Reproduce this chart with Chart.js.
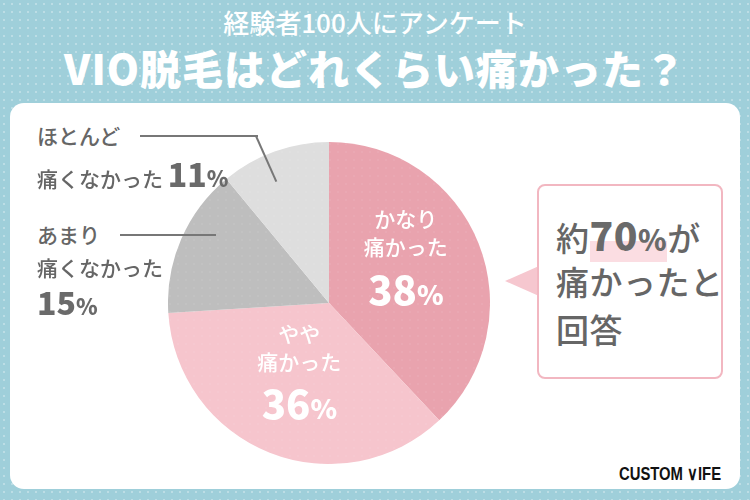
<!DOCTYPE html>
<html>
<head>
<meta charset="utf-8">
<script src="https://cdn.jsdelivr.net/npm/chart.js@4"></script>
<style>
  body { margin: 0; }
  #wrap {
    position: relative; width: 750px; height: 500px; overflow: hidden;
    background-color: #9fcfda;
    background-image: radial-gradient(rgba(255,255,255,0.3) 1px, transparent 1.2px);
    background-size: 8px 8px;
    font-family: "Noto Sans CJK JP", "Noto Sans", sans-serif;
  }
  .abs { position: absolute; white-space: nowrap; }
  #sub { left: 0; width: 750px; top: 3px; text-align: center; color: #fff; font-size: 26px; font-weight: 500; }
  #title { left: 0; width: 750px; top: 37px; text-align: center; color: #fff; font-size: 41px; font-weight: 900; letter-spacing: 1px; }
  #panel { left: 10px; top: 103px; width: 730px; height: 386px; background: #fff; border-radius: 14px; }
  #pie { left: 168px; top: 142px; width: 322px; height: 322px; }
  .lbl { color: #666; font-size: 21px; font-weight: 500; line-height: 1; }
  .num { color: #6a6a6a; font-size: 32px; font-weight: 900; line-height: 1; }
  .num small { font-size: 22px; }
  .line { background: #777; height: 2px; }
  #box { left: 537px; top: 184px; width: 182px; height: 191px; border: 2.5px solid #f2b7c1; border-radius: 8px; background: #fff; }
  #tri { left: 505px; top: 266px; width: 0; height: 0; border-top: 15px solid transparent; border-bottom: 15px solid transparent; border-right: 34px solid #f6c7cf; }
  .bt { color: #666; font-size: 33px; font-weight: 500; line-height: 1; letter-spacing: 0.5px; }
  .hl { background: linear-gradient(transparent 62%, #fbdde2 62%); font-weight: 900; font-size: 39px; color: #6a6a6a; }
  .hl small { font-size: 29px; }
  #logo { left: 619px; top: 462px; font-family: "Liberation Sans", sans-serif; font-weight: bold; font-size: 19px; color: #111; transform: scaleX(0.78); transform-origin: 0 0; }
</style>
</head>
<body>
<div id="wrap">
  <div id="sub" class="abs">経験者100人にアンケート</div>
  <div id="title" class="abs">VIO脱毛はどれくらい痛かった？</div>
  <div id="panel" class="abs"></div>

  <div id="pie" class="abs"><canvas id="chart" width="322" height="322"></canvas></div>

  <div class="abs lbl" style="left:37px;top:125px;">ほとんど</div>
  <div class="abs lbl" style="left:37px;top:157px;">痛くなかった <span class="num">11<small>%</small></span></div>
  <div class="abs line" style="left:140px;top:135px;width:118px;"></div>
  <div class="abs line" style="left:256px;top:135px;width:50px;transform-origin:0 50%;transform:rotate(66deg);"></div>

  <div class="abs lbl" style="left:37px;top:224px;">あまり</div>
  <div class="abs line" style="left:120px;top:234px;width:96px;"></div>
  <div class="abs lbl" style="left:37px;top:257px;">痛くなかった</div>
  <div class="abs num" style="left:37px;top:285px;">15<small>%</small></div>

  <div id="tri" class="abs"></div>
  <div id="box" class="abs"></div>
  <div class="abs bt" style="left:556px;top:215px;">約<span class="hl">70<small>%</small></span>が</div>
  <div class="abs bt" style="left:556px;top:265px;">痛かったと</div>
  <div class="abs bt" style="left:556px;top:313px;">回答</div>

  <div id="logo" class="abs">CUSTOM ∨IFE</div>
</div>

<script>
// answers, clockwise from 12 o'clock
var categories = ['かなり痛かった', 'やや痛かった', 'あまり痛くなかった', 'ほとんど痛くなかった']
var percents = [38, 36, 15, 11]
var sliceColors = ['#e9a3ae', '#f6c5cd', '#bebebe', '#dedede']
// which slices get their label drawn inside the pie
var insideLines = [['かなり', '痛かった'], ['やや', '痛かった'], null, null]

function dotted(color) {
    var c = document.createElement('canvas')
    c.width = 8; c.height = 8
    var g = c.getContext('2d')
    g.fillStyle = color
    g.fillRect(0, 0, 8, 8)
    g.fillStyle = 'rgba(255,255,255,0.15)'
    g.beginPath(); g.arc(2, 2, 0.8, 0, Math.PI * 2); g.fill()
    return g.createPattern(c, 'repeat')
}

var sliceText = {
    id: 'sliceText',
    afterDatasetsDraw: function(chart) {
        var ctx = chart.ctx
        var arcs = chart.getDatasetMeta(0).data
        ctx.save()
        ctx.fillStyle = '#fff'
        ctx.textBaseline = 'middle'
        arcs.forEach(function(arc, i) {
            if (!insideLines[i]) return
            var p = arc.tooltipPosition()
            var x = p.x + (i == 0 ? 2 : 0)
            var y = p.y + (i == 0 ? -20 : -10)
            ctx.textAlign = 'center'
            ctx.font = '500 21px "Noto Sans CJK JP"'
            ctx.fillText(insideLines[i][0], x, y - 34)
            ctx.fillText(insideLines[i][1], x, y - 6)
            ctx.font = '900 40px "Noto Sans CJK JP"'
            var n = String(percents[i])
            var w1 = ctx.measureText(n).width
            ctx.font = '900 27px "Noto Sans CJK JP"'
            var w2 = ctx.measureText('%').width
            ctx.textAlign = 'left'
            ctx.font = '900 40px "Noto Sans CJK JP"'
            ctx.fillText(n, x - (w1 + w2) / 2, y + 36)
            ctx.font = '900 27px "Noto Sans CJK JP"'
            ctx.fillText('%', x - (w1 + w2) / 2 + w1, y + 41)
        })
        ctx.restore()
    }
}

new Chart(document.getElementById('chart'), {
    type: 'pie',
    data: {
        labels: categories,
        datasets: [{
            data: percents,
            backgroundColor: sliceColors.map(dotted),
            borderWidth: 0
        }]
    },
    options: {
        responsive: false,
        animation: false,
        layout: { padding: 0 },
        plugins: {
            legend: { display: false },
            tooltip: { enabled: false }
        }
    },
    plugins: [sliceText]
})
</script>
</body>
</html>
